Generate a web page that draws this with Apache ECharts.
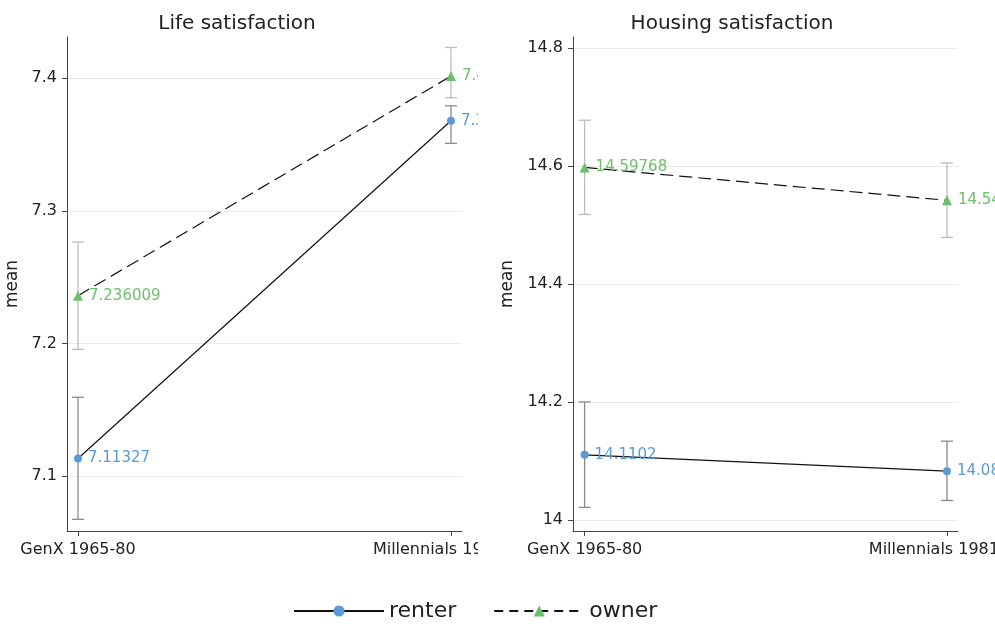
<!DOCTYPE html>
<html><head><meta charset="utf-8">
<script src="https://cdn.jsdelivr.net/npm/echarts@6/dist/echarts.min.js"></script>
<style>
body{margin:0;background:#fff;width:995px;height:628px;position:relative;overflow:hidden;}
#left{position:absolute;left:0;top:0;width:478px;height:585px;}
#right{position:absolute;left:478px;top:0;width:517px;height:585px;}
#leg{position:absolute;left:0;top:594px;width:995px;height:34px;}
</style></head><body>
<div id="left"></div><div id="right"></div><div id="leg"></div>
<script>
const categories = ['GenX 1965-80', 'Millennials 1981-96'];
const seriesNames = ['renter', 'owner'];
// Life satisfaction
const lifeRenterMean = [7.11327, 7.367842];
const lifeRenterLow  = [7.0674, 7.3508];
const lifeRenterHigh = [7.1594, 7.3791];
const lifeOwnerMean  = [7.236009, 7.401534];
const lifeOwnerLow   = [7.1955, 7.3852];
const lifeOwnerHigh  = [7.2764, 7.4231];
const lifeTicks = [7.1, 7.2, 7.3, 7.4];
// Housing satisfaction
const housRenterMean = [14.1102, 14.08246];
const housRenterLow  = [14.021, 14.0328];
const housRenterHigh = [14.2, 14.1334];
const housOwnerMean  = [14.59768, 14.54197];
const housOwnerLow   = [14.518, 14.479];
const housOwnerHigh  = [14.6778, 14.6053];
const housTicks = [14, 14.2, 14.4, 14.6, 14.8];

const FONT = 'DejaVu Sans';
const BLUE = '#5b9bd5';
const GREEN = '#6cbf6c';

function errSeries(low, high, color) {
  return {
    type: 'custom', z: 1, silent: true,
    data: categories.map((c, i) => [i, low[i], high[i]]),
    renderItem: function (params, api) {
      const x = api.value(0);
      const p1 = api.coord([x, api.value(1)]);
      const p2 = api.coord([x, api.value(2)]);
      const w = 6;
      const st = { stroke: color, lineWidth: 1.3 };
      return { type: 'group', children: [
        { type: 'line', shape: { x1: p1[0], y1: p1[1], x2: p2[0], y2: p2[1] }, style: st },
        { type: 'line', shape: { x1: p1[0] - w, y1: p1[1], x2: p1[0] + w, y2: p1[1] }, style: st },
        { type: 'line', shape: { x1: p2[0] - w, y1: p2[1], x2: p2[0] + w, y2: p2[1] }, style: st }
      ]};
    }
  };
}
function lineSeries(name, mean, color, symbol, dashed) {
  return {
    name: name, type: 'line', z: 3,
    data: mean.map((v, i) => [i, v]),
    symbol: symbol, symbolSize: symbol === 'circle' ? 8 : 10,
    itemStyle: { color: color },
    lineStyle: { color: '#111', width: 1.2, type: dashed ? [13, 6] : 'solid' },
    label: { show: true, position: 'right', distance: 6, color: color, fontSize: 15, fontFamily: FONT,
      formatter: p => String(p.value[1]) },
    animation: false
  };
}
function panel(el, cfg) {
  const chart = echarts.init(document.getElementById(el), null, { renderer: 'canvas' });
  chart.setOption({
    animation: false,
    textStyle: { fontFamily: FONT },
    title: { text: cfg.title, left: cfg.titleX, top: 9, textAlign: 'center',
      textStyle: { fontFamily: FONT, fontSize: 20, fontWeight: 'normal', color: '#222' } },
    grid: { left: cfg.gl, right: cfg.gr, top: 37, bottom: 54, containLabel: false, outerBoundsMode: 'none' },
    xAxis: {
      type: 'value', min: cfg.xmin, max: cfg.xmax,
      axisLine: { onZero: false, lineStyle: { color: '#444' } },
      axisTick: { show: true, length: 5, customValues: [0, 1], lineStyle: { color: '#444' } },
      axisLabel: { customValues: [0, 1], margin: 11, fontSize: 16, color: '#222', fontFamily: FONT,
        formatter: v => categories[Math.round(v)] },
      splitLine: { show: false }
    },
    yAxis: {
      type: 'value', min: cfg.ymin, max: cfg.ymax,
      name: 'mean', nameLocation: 'middle', nameGap: cfg.nameGap,
      nameTextStyle: { fontSize: 17, color: '#222', fontFamily: FONT },
      axisLine: { show: true, onZero: false, lineStyle: { color: '#444' } },
      axisTick: { show: true, length: 5, customValues: cfg.ticks, lineStyle: { color: '#444' } },
      axisLabel: { customValues: cfg.ticks, margin: 10, fontSize: 16, color: '#222', fontFamily: FONT,
        formatter: v => String(v) },
      splitLine: { show: true, lineStyle: { color: '#ececec', width: 1 } }
    },
    series: [
      errSeries(cfg.rLow, cfg.rHigh, '#8a8a8a'),
      errSeries(cfg.oLow, cfg.oHigh, '#bdbdbd'),
      lineSeries(seriesNames[0], cfg.rMean, BLUE, 'circle', false),
      lineSeries(seriesNames[1], cfg.oMean, GREEN, 'triangle', true)
    ]
  });
}
panel('left', {
  title: 'Life satisfaction', titleX: 232, gl: 67, gr: 16,
  xmin: -0.0295, xmax: 1.0295, ymin: 7.0586, ymax: 7.431, ticks: lifeTicks, nameGap: 45,
  rMean: lifeRenterMean, rLow: lifeRenterLow, rHigh: lifeRenterHigh,
  oMean: lifeOwnerMean, oLow: lifeOwnerLow, oHigh: lifeOwnerHigh
});
panel('right', {
  title: 'Housing satisfaction', titleX: 249, gl: 95, gr: 37,
  xmin: -0.032, xmax: 1.0304, ymin: 13.981, ymax: 14.819, ticks: housTicks, nameGap: 55,
  rMean: housRenterMean, rLow: housRenterLow, rHigh: housRenterHigh,
  oMean: housOwnerMean, oLow: housOwnerLow, oHigh: housOwnerHigh
});
const leg = echarts.init(document.getElementById('leg'));
leg.setOption({
  animation: false,
  legend: { left: 288, top: 'middle', itemWidth: 90, itemHeight: 14, itemGap: 37,
    textStyle: { fontSize: 22, color: '#222', fontFamily: FONT },
    data: seriesNames },
  grid: { left: 0, right: 0, top: 0, bottom: 0 },
  xAxis: { type: 'value', show: false },
  yAxis: { type: 'value', show: false },
  series: [
    { name: seriesNames[0], type: 'line', data: [], symbol: 'circle', symbolSize: 9,
      itemStyle: { color: BLUE }, lineStyle: { color: '#111', width: 1.2 } },
    { name: seriesNames[1], type: 'line', data: [], symbol: 'triangle', symbolSize: 9,
      itemStyle: { color: GREEN }, lineStyle: { color: '#111', width: 1.2, type: [9, 6] } }
  ]
});
</script>
</body></html>
